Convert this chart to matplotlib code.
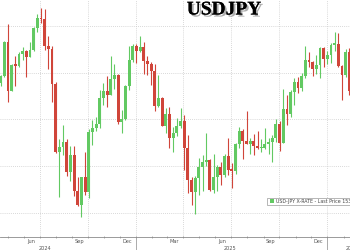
import matplotlib
matplotlib.use("Agg")
import matplotlib.pyplot as plt
import matplotlib.dates as mdates
import matplotlib.patheffects as pe
from matplotlib.patches import Rectangle
import numpy as np
import pandas as pd

# weekly USDJPY bars (Monday of each week)
week_starts = pd.date_range("2024-04-15", periods=96, freq="7D")
first_open = 153.9

closes = [
    # 2024
    154.6, 158.3, 153.0, 155.8, 155.7, 157.0, 157.3, 156.7, 157.4, 159.8,
    160.9, 160.7, 157.9, 157.5, 153.8, 146.5, 147.1, 147.6, 144.4, 146.2,
    142.3, 140.8, 143.9, 142.2, 148.7, 149.1, 149.5, 152.3, 153.0, 152.6,
    154.3, 154.8, 149.7, 150.0, 153.6, 156.4, 157.9, 157.3,
    # 2025
    157.7, 156.3, 155.9, 155.2, 151.4, 152.3, 149.3, 150.6, 148.0, 148.6,
    149.3, 149.8, 146.9, 143.5, 142.2, 143.7, 144.9, 145.4, 145.7, 142.5,
    143.9, 144.9, 144.1, 146.1, 144.6, 144.5, 147.4, 148.8, 147.7, 147.4,
    147.7, 147.2, 146.9, 147.0, 147.4, 147.6, 148.0, 149.5, 147.5, 151.1,
    150.6, 152.9, 154.0, 153.4, 154.6, 156.4, 156.2, 155.4, 155.8, 157.6,
    156.5, 156.9,
    # 2026
    158.0, 158.1, 155.7, 154.8, 157.2, 153.0,
]
highs = [
    154.8, 158.4, 160.2, 155.9, 156.8, 157.2, 157.7, 157.4, 158.3, 159.9,
    161.3, 161.95, 161.8, 158.9, 157.9, 154.0, 147.9, 149.4, 147.9, 147.2,
    147.2, 143.8, 143.9, 146.5, 149.0, 149.9, 150.3, 153.2, 153.9, 154.7,
    156.8, 155.9, 154.9, 151.0, 153.7, 157.9, 158.1, 158.1,
    158.9, 158.3, 156.8, 156.1, 155.9, 154.8, 152.4, 151.2, 151.3, 149.2,
    150.2, 151.2, 150.5, 148.3, 143.9, 144.0, 145.9, 146.2, 148.6, 145.8,
    146.3, 145.1, 145.5, 146.3, 148.0, 145.3, 147.5, 149.2, 149.0, 150.9,
    148.0, 148.5, 148.8, 147.9, 149.1, 148.0, 148.3, 150.0, 149.8, 153.3,
    152.6, 153.1, 154.4, 154.5, 155.0, 157.9, 157.2, 156.3, 156.9, 157.8,
    157.8, 157.3,
    158.2, 159.4, 159.2, 155.8, 157.5, 157.6,
]
lows = [
    153.6, 154.5, 151.9, 153.0, 153.6, 155.6, 156.4, 154.5, 156.7, 157.3,
    159.4, 160.3, 157.4, 155.4, 151.9, 146.4, 141.7, 146.2, 144.0, 143.4,
    141.8, 140.7, 139.6, 141.9, 141.6, 147.3, 148.8, 149.1, 151.6, 151.3,
    152.6, 153.3, 149.5, 148.6, 149.9, 153.1, 156.1, 156.0,
    157.2, 154.9, 154.8, 153.7, 150.9, 151.3, 149.3, 148.6, 146.9, 146.5,
    148.2, 149.1, 144.6, 142.1, 140.9, 139.9, 141.9, 142.4, 145.0, 142.4,
    142.1, 142.4, 143.0, 143.9, 144.1, 142.7, 144.2, 146.9, 145.8, 147.4,
    146.3, 146.2, 146.8, 146.5, 146.8, 146.3, 145.5, 147.6, 146.6, 147.5,
    149.4, 150.3, 151.6, 152.8, 153.0, 154.4, 155.6, 154.6, 154.9, 154.4,
    155.6, 155.9,
    156.0, 157.3, 155.6, 152.1, 154.5, 152.6,
]

grid_dates = ["2024-07-01", "2024-10-01", "2025-01-01", "2025-04-01",
              "2025-07-01", "2025-10-01", "2026-01-01"]
grid_levels = [140, 145, 150, 155, 160]
month_label_dates = ["2024-06-15", "2024-09-15", "2024-12-15", "2025-03-15",
                     "2025-06-15", "2025-09-15", "2025-12-15"]
month_labels = ["Jun", "Sep", "Dec", "Mar", "Jun", "Sep", "Dec"]
year_labels = ["2024", "2025", "2026"]
year_label_dates = ["2024-07-10", "2025-06-28", "2026-02-17"]
year_breaks = ["2025-01-01", "2026-01-01"]

up_color = "#62c962"
down_color = "#d0453a"
grid_color = "#cccccc"
text_color = "#555555"


def main():
    o = np.array([first_open] + closes[:-1])
    c = np.array(closes)
    h = np.array(highs)
    l = np.array(lows)
    cols = np.where(c >= o, up_color, down_color)

    fig = plt.figure(figsize=(3.5, 2.5), dpi=100)
    ax = fig.add_axes([0, 13 / 250, 1, 237 / 250])

    x = mdates.date2num(week_starts + pd.Timedelta(hours=60))

    # grid first so the candles sit on top
    for d in grid_dates:
        ax.axvline(mdates.datestr2num(d), color=grid_color, lw=0.6, ls=(0, (1, 1.5)), zorder=0)
    for lev in grid_levels:
        ax.axhline(lev, color=grid_color, lw=0.6, ls=(0, (1, 1.5)), zorder=0)

    # candles
    ax.vlines(x, l, h, colors=cols, lw=0.8, zorder=2)
    ax.bar(x, np.maximum(np.abs(c - o), 0.2), bottom=np.minimum(o, c),
           width=5.2, color=cols, lw=0, zorder=3)

    ax.set_xlim(mdates.datestr2num("2024-04-16"), mdates.datestr2num("2026-02-13"))
    ax.set_ylim(137.43, 162.78)

    for s in ["left", "right", "top"]:
        ax.spines[s].set_visible(False)
    ax.spines["bottom"].set_color("#8a8a8a")
    ax.spines["bottom"].set_linewidth(0.6)
    ax.set_yticks([])

    ax.set_xticks([mdates.datestr2num(d) for d in month_label_dates])
    ax.set_xticklabels(month_labels, fontsize=3.6, color=text_color)
    ax.xaxis.set_minor_locator(mdates.MonthLocator())
    ax.tick_params(axis="x", which="major", length=0, pad=1.5)
    ax.tick_params(axis="x", which="minor", length=2, width=0.5,
                   direction="inout", color="#8a8a8a")

    trans = ax.get_xaxis_transform()
    for lab, d in zip(year_labels, year_label_dates):
        ax.text(mdates.datestr2num(d), -0.036, lab, transform=trans, fontsize=3.6,
                color=text_color, ha="center", va="top", clip_on=False)
    for d in year_breaks:
        xd = mdates.datestr2num(d)
        ax.plot([xd, xd], [-0.005, -0.06], transform=trans, color="#8a8a8a",
                lw=0.5, clip_on=False)

    # title with drop shadow
    fig.text(224 / 350, 1 - 1.5 / 250, "USDJPY", family="Liberation Serif",
             weight="bold", fontsize=14, color="black", ha="center", va="top",
             path_effects=[pe.withSimplePatchShadow(offset=(1.5, -1.5),
                                                    shadow_rgbFace="#777777", alpha=0.6),
                           pe.Normal()])

    # legend box (cut off at the right edge like the original)
    fig.patches.append(Rectangle((267 / 350, 45 / 250), 0.3, 7.5 / 250,
                                 transform=fig.transFigure, facecolor="white",
                                 edgecolor="#9a9a9a", lw=0.5, zorder=5))
    fig.patches.append(Rectangle((270 / 350, 46.8 / 250), 4 / 350, 4 / 250,
                                 transform=fig.transFigure, facecolor=up_color,
                                 edgecolor="none", zorder=6))
    fig.text(276 / 350, 48.9 / 250, f"USD-JPY X-RATE - Last Price {closes[-1]:.2f}",
             fontsize=3.4, color="#444444", ha="left", va="center", zorder=7)

    fig.savefig("out.png", dpi=100)


if __name__ == "__main__":
    main()
